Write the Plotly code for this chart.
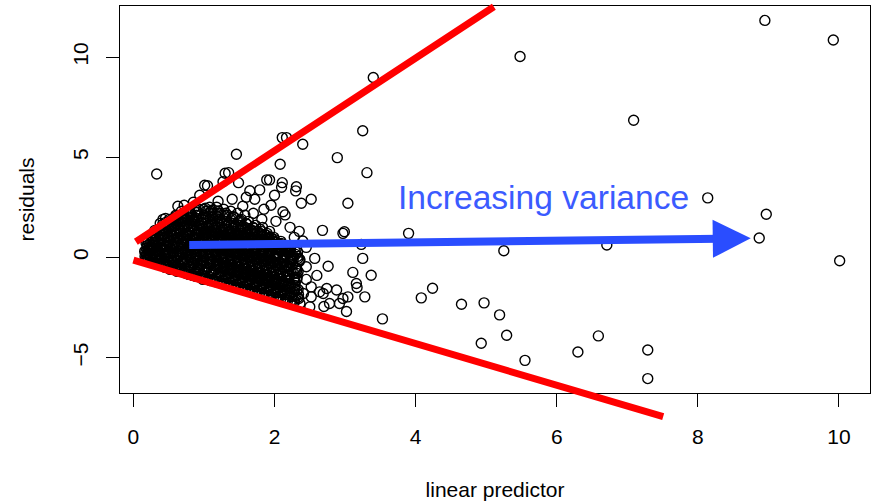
import plotly.graph_objects as go

# ---------------- data ----------------
# dense cluster of residuals at small linear-predictor values (first pass)
cluster_points = [
    (0.16,0.3),(0.18,0.0),(0.2,0.6),(0.17,-0.1),(0.22,0.2),(0.21,0.8),(0.19,0.45),(0.24,-0.2),(0.23,0.1),
    (0.26,0.5),(0.28,-0.25),(0.27,1.0),(0.3,0.2),(0.29,0.75),(0.25,0.05),(0.31,-0.1),(0.32,1.2),(0.28,0.35),(0.33,0.6),
    (0.35,-0.35),(0.36,0.9),(0.38,0.1),(0.37,1.4),(0.4,0.5),(0.39,-0.15),(0.41,1.1),(0.36,0.3),(0.42,0.7),(0.38,1.7),(0.43,-0.4),(0.4,0.0),
    (0.45,-0.5),(0.46,0.4),(0.47,1.2),(0.48,-0.1),(0.5,0.8),(0.49,1.6),(0.45,0.1),(0.51,1.9),(0.52,-0.3),(0.47,0.6),(0.5,1.0),(0.53,0.25),(0.46,1.4),(0.52,-0.6),
    (0.55,-0.6),(0.56,0.2),(0.57,0.9),(0.58,1.6),(0.6,-0.2),(0.59,0.5),(0.61,1.2),(0.55,1.9),(0.62,0.0),(0.57,-0.4),(0.6,2.1),(0.63,0.7),(0.58,1.4),(0.62,-0.7),(0.56,0.35),
    (0.65,-0.7),(0.66,0.1),(0.67,0.8),(0.68,1.5),(0.7,2.0),(0.69,-0.3),(0.71,0.5),(0.65,1.2),(0.72,-0.55),(0.67,1.8),(0.7,0.25),(0.73,1.0),(0.68,2.3),(0.72,-0.1),(0.66,0.6),
    (0.75,-0.8),(0.76,-0.2),(0.77,0.4),(0.78,1.1),(0.8,1.7),(0.79,2.2),(0.81,0.0),(0.75,0.8),(0.82,-0.6),(0.77,1.4),(0.8,0.6),(0.83,2.0),(0.78,-0.4),(0.76,1.9),(0.82,0.2),(0.84,-0.9),
    (0.85,-0.9),(0.86,-0.3),(0.87,0.3),(0.88,0.9),(0.9,1.5),(0.89,2.1),(0.91,-0.6),(0.85,0.6),(0.92,1.2),(0.87,1.8),(0.9,0.0),(0.93,2.4),(0.88,-0.1),(0.86,1.0),(0.92,0.45),(0.94,-0.95),
    (0.95,-1.0),(0.96,-0.4),(0.97,0.2),(0.98,0.8),(1.0,1.4),(0.99,2.0),(1.01,-0.7),(0.95,0.5),(1.02,1.1),(0.97,1.7),(1.0,-0.1),(1.03,2.3),(0.98,0.35),(0.96,1.25),(1.02,-1.05),(1.04,0.65),
    (1.05,-1.1),(1.06,-0.5),(1.07,0.1),(1.08,0.7),(1.1,1.3),(1.09,1.9),(1.11,-0.8),(1.05,0.4),(1.12,1.0),(1.07,1.6),(1.1,-0.2),(1.13,2.2),(1.08,2.5),(1.06,0.95),(1.12,-1.1),(1.14,0.3),
    (1.15,-1.2),(1.16,-0.6),(1.17,0.0),(1.18,0.6),(1.2,1.2),(1.19,1.8),(1.21,-0.9),(1.15,0.3),(1.22,0.9),(1.17,1.5),(1.2,-0.3),(1.23,2.2),(1.18,2.5),(1.16,1.05),(1.22,-1.25),(1.24,0.15),
    (1.25,-1.3),(1.26,-0.7),(1.27,-0.1),(1.28,0.5),(1.3,1.1),(1.29,1.7),(1.31,-1.0),(1.25,0.2),(1.32,0.8),(1.27,1.4),(1.3,-0.4),(1.33,2.1),(1.28,2.4),(1.26,0.95),(1.32,-1.35),(1.34,0.35),
    (1.35,-1.4),(1.36,-0.8),(1.37,-0.2),(1.38,0.4),(1.4,1.0),(1.39,1.6),(1.41,-1.1),(1.35,0.1),(1.42,0.7),(1.37,1.3),(1.4,-0.5),(1.43,2.0),(1.38,2.3),(1.36,0.85),(1.42,-1.45),(1.44,0.25),
    (1.45,-1.5),(1.46,-0.9),(1.47,-0.3),(1.48,0.3),(1.5,0.9),(1.49,1.5),(1.51,-1.2),(1.45,0.0),(1.52,0.6),(1.47,1.2),(1.5,-0.6),(1.53,1.9),(1.48,2.2),(1.46,0.75),(1.52,-1.55),
    (1.55,-1.6),(1.56,-1.0),(1.57,-0.4),(1.58,0.2),(1.6,0.8),(1.59,1.4),(1.61,-1.3),(1.55,-0.1),(1.62,0.5),(1.57,1.1),(1.6,-0.7),(1.63,1.8),(1.58,2.1),(1.62,-1.65),
    (1.65,-1.7),(1.66,-1.1),(1.67,-0.5),(1.68,0.1),(1.7,0.7),(1.69,1.3),(1.71,-1.4),(1.65,-0.2),(1.72,0.4),(1.67,1.0),(1.7,-0.8),(1.73,1.6),(1.72,-1.75),
    (1.75,-1.8),(1.76,-1.2),(1.77,-0.6),(1.78,0.0),(1.8,0.6),(1.79,1.2),(1.81,-1.5),(1.75,-0.3),(1.82,0.3),(1.77,0.9),(1.8,-0.9),(1.83,1.5),(1.82,-1.85),
    (1.85,-1.9),(1.86,-1.3),(1.87,-0.7),(1.88,-0.1),(1.9,0.5),(1.89,1.1),(1.91,-1.6),(1.85,-0.4),(1.92,0.2),(1.87,0.8),(1.9,-1.0),(1.93,1.3),(1.92,-1.95),
    (1.95,-2.0),(1.96,-1.4),(1.97,-0.8),(1.98,-0.2),(2.0,0.4),(1.99,1.0),(2.01,-1.7),(1.95,-0.5),(2.02,0.1),(1.97,0.7),(2.0,-1.1),(2.03,-2.1),
    (2.05,-2.1),(2.06,-1.5),(2.07,-0.9),(2.08,-0.3),(2.1,0.3),(2.09,0.8),(2.11,-1.8),(2.05,-0.6),(2.12,0.0),(2.07,0.55),(2.1,-1.2),
    (2.15,-2.2),(2.16,-1.6),(2.17,-1.0),(2.18,-0.4),(2.2,0.2),(2.19,0.5),(2.21,-1.9),(2.15,-0.7),(2.22,-0.1),(2.2,-1.3),
    (2.25,-2.3),(2.27,-1.7),(2.28,-1.1),(2.3,-0.5),(2.26,0.1),(2.32,-0.8),(2.33,-2.0),(2.29,-1.4),(2.35,-0.2),
]

# dense cluster (second pass)
cluster_points_b = [
    (0.19,0.15),(0.21,0.35),(0.23,0.65),(0.2,-0.05),(0.24,0.5),(0.18,0.7),
    (0.27,0.15),(0.29,0.45),(0.31,0.9),(0.33,-0.2),(0.3,1.1),(0.34,0.3),(0.32,0.0),(0.26,0.85),
    (0.37,0.2),(0.39,0.6),(0.41,-0.25),(0.43,1.3),(0.4,0.85),(0.44,0.05),(0.38,1.2),(0.42,1.5),(0.36,-0.1),(0.44,0.4),
    (0.47,-0.35),(0.49,0.25),(0.51,0.55),(0.53,1.3),(0.48,1.05),(0.5,-0.45),(0.54,0.0),(0.46,1.75),(0.52,1.55),(0.49,0.7),(0.54,-0.15),
    (0.57,0.05),(0.59,0.75),(0.61,-0.45),(0.63,1.45),(0.58,1.05),(0.6,1.75),(0.64,0.3),(0.56,-0.25),(0.62,0.55),(0.64,-0.55),(0.59,1.95),(0.57,1.25),
    (0.67,-0.45),(0.69,0.4),(0.71,1.1),(0.73,1.7),(0.68,-0.05),(0.7,0.9),(0.74,0.1),(0.66,1.4),(0.72,2.1),(0.74,-0.7),(0.69,0.65),(0.71,1.35),
    (0.77,-0.55),(0.79,0.15),(0.81,0.9),(0.83,1.55),(0.78,0.5),(0.8,1.25),(0.84,-0.25),(0.76,2.05),(0.82,0.75),(0.84,1.85),(0.79,-0.75),(0.81,0.35),(0.77,1.05),
    (0.87,-0.7),(0.89,0.15),(0.91,0.75),(0.93,1.35),(0.88,0.45),(0.9,1.95),(0.94,-0.4),(0.86,1.65),(0.92,-0.15),(0.94,1.05),(0.89,-0.85),(0.91,2.25),(0.87,1.15),
    (0.97,-0.85),(0.99,0.05),(1.01,0.6),(1.03,1.25),(0.98,-0.3),(1.0,1.85),(1.04,-0.55),(0.96,2.15),(1.02,0.9),(1.04,1.55),(0.99,0.3),(1.01,-0.95),(0.97,1.0),(1.03,0.15),
    (1.07,-0.95),(1.09,-0.05),(1.11,0.55),(1.13,1.15),(1.08,-0.35),(1.1,1.75),(1.14,-0.65),(1.06,2.05),(1.12,0.85),(1.14,1.45),(1.09,0.25),(1.11,2.35),(1.07,1.3),(1.13,-0.2),
    (1.17,-1.05),(1.19,-0.15),(1.21,0.45),(1.23,1.05),(1.18,-0.45),(1.2,1.65),(1.24,-0.75),(1.16,1.95),(1.22,0.75),(1.24,1.35),(1.19,0.15),(1.21,2.3),(1.17,1.2),(1.23,-0.3),
    (1.27,-1.15),(1.29,-0.25),(1.31,0.35),(1.33,0.95),(1.28,-0.55),(1.3,1.55),(1.34,-0.85),(1.26,1.85),(1.32,0.65),(1.34,1.25),(1.29,0.05),(1.31,2.2),(1.27,1.1),(1.33,-0.4),
    (1.37,-1.25),(1.39,-0.35),(1.41,0.25),(1.43,0.85),(1.38,-0.65),(1.4,1.45),(1.44,-0.95),(1.36,1.75),(1.42,0.55),(1.44,1.15),(1.39,-0.05),(1.41,2.05),(1.37,1.0),(1.43,-0.5),
    (1.47,-1.35),(1.49,-0.45),(1.51,0.15),(1.53,0.75),(1.48,-0.75),(1.5,1.35),(1.54,-1.05),(1.46,1.65),(1.52,0.45),(1.54,1.05),(1.49,-0.15),(1.51,1.85),(1.47,0.9),(1.53,-0.6),
    (1.57,-1.45),(1.59,-0.55),(1.61,0.05),(1.63,0.65),(1.58,-0.85),(1.6,1.25),(1.64,-1.15),(1.56,1.55),(1.62,0.35),(1.64,0.95),(1.59,-0.25),(1.61,1.65),(1.57,0.8),(1.63,-0.7),
    (1.67,-1.55),(1.69,-0.65),(1.71,-0.05),(1.73,0.55),(1.68,-0.95),(1.7,1.15),(1.74,-1.25),(1.66,1.4),(1.72,0.25),(1.74,0.85),(1.69,-0.35),(1.71,1.45),(1.67,0.7),(1.73,-0.8),
    (1.77,-1.65),(1.79,-0.75),(1.81,-0.15),(1.83,0.45),(1.78,-1.05),(1.8,1.05),(1.84,-1.35),(1.76,1.3),(1.82,0.15),(1.84,0.75),(1.79,-0.45),(1.81,1.3),(1.77,0.6),(1.83,-0.9),
    (1.87,-1.75),(1.89,-0.85),(1.91,-0.25),(1.93,0.35),(1.88,-1.15),(1.9,0.95),(1.94,-1.45),(1.86,1.15),(1.92,0.05),(1.94,0.65),(1.89,-0.55),(1.87,0.5),(1.93,-1.0),
    (1.97,-1.85),(1.99,-0.95),(2.01,-0.35),(2.03,0.25),(1.98,-1.25),(2.0,0.8),(2.04,-1.55),(1.96,0.95),(2.02,-0.05),(2.04,0.5),(1.99,-0.65),(1.97,0.35),
    (2.07,-1.95),(2.09,-1.05),(2.11,-0.45),(2.13,0.15),(2.08,-1.35),(2.1,0.6),(2.14,-1.65),(2.06,0.7),(2.12,-0.15),(2.14,0.4),(2.09,-0.75),
    (2.17,-2.05),(2.19,-1.15),(2.21,-0.55),(2.23,0.05),(2.18,-1.45),(2.2,0.35),(2.24,-1.75),(2.16,0.55),(2.22,-0.25),(2.19,-0.85),
    (2.27,-2.1),(2.29,-1.25),(2.31,-0.65),(2.33,-0.05),(2.28,-1.55),(2.3,0.15),(2.34,-1.85),(2.26,-0.35),(2.32,-1.0),
]

# dense cluster (third pass)
cluster_points_c = [
    (0.175,0.25),(0.225,0.55),(0.215,-0.1),(0.185,0.85),(0.235,0.35),(0.165,0.05),
    (0.275,0.6),(0.325,0.1),(0.285,1.15),(0.315,0.4),(0.265,-0.15),(0.335,0.8),(0.295,-0.3),(0.305,1.35),
    (0.375,0.45),(0.425,0.95),(0.385,-0.3),(0.415,1.65),(0.365,0.7),(0.435,0.2),(0.395,1.35),(0.405,-0.05),(0.445,1.15),
    (0.475,0.85),(0.525,0.45),(0.485,-0.5),(0.515,1.7),(0.465,0.15),(0.535,1.15),(0.495,1.4),(0.505,-0.2),(0.545,0.65),(0.455,1.95),
    (0.575,1.55),(0.625,0.2),(0.585,-0.6),(0.615,0.95),(0.565,0.6),(0.635,1.75),(0.595,0.15),(0.605,2.05),(0.645,-0.35),(0.555,1.1),(0.625,1.3),
    (0.675,0.3),(0.725,1.45),(0.685,-0.6),(0.715,0.75),(0.665,1.65),(0.735,0.35),(0.695,2.15),(0.705,-0.2),(0.745,1.2),(0.655,0.95),(0.725,1.9),(0.675,-0.25),
    (0.775,0.25),(0.825,1.35),(0.785,-0.85),(0.815,0.55),(0.765,1.6),(0.835,-0.05),(0.795,2.3),(0.805,-0.45),(0.845,0.95),(0.755,1.2),(0.825,1.75),(0.775,0.7),(0.815,-0.15),
    (0.875,0.1),(0.925,1.6),(0.885,-0.95),(0.915,0.6),(0.865,1.35),(0.935,-0.55),(0.895,2.35),(0.905,-0.2),(0.945,0.85),(0.855,1.9),(0.925,1.15),(0.875,0.7),(0.915,-0.75),(0.895,0.35),
    (0.975,0.45),(1.025,1.7),(0.985,-1.1),(1.015,0.25),(0.965,1.55),(1.035,-0.25),(0.995,2.4),(1.005,-0.6),(1.045,1.05),(0.955,0.75),(1.025,2.0),(0.975,-0.15),(1.015,1.3),(0.995,0.95),
    (1.075,0.4),(1.125,1.6),(1.085,-1.15),(1.115,0.15),(1.065,1.45),(1.135,-0.4),(1.095,2.3),(1.105,-0.7),(1.145,1.05),(1.055,0.75),(1.125,2.0),(1.075,-0.25),(1.115,1.25),(1.095,0.85),
    (1.175,0.3),(1.225,1.5),(1.185,-1.2),(1.215,0.05),(1.165,1.35),(1.235,-0.5),(1.195,2.2),(1.205,-0.8),(1.245,0.95),(1.155,0.65),(1.225,1.9),(1.175,-0.35),(1.215,1.15),(1.195,0.8),
    (1.275,0.2),(1.325,1.4),(1.285,-1.3),(1.315,-0.05),(1.265,1.25),(1.335,-0.6),(1.295,2.1),(1.305,-0.9),(1.345,0.85),(1.255,0.55),(1.325,1.8),(1.275,-0.45),(1.315,1.05),(1.295,0.7),
    (1.375,0.1),(1.425,1.3),(1.385,-1.4),(1.415,-0.15),(1.365,1.15),(1.435,-0.7),(1.395,1.95),(1.405,-1.0),(1.445,0.75),(1.355,0.45),(1.425,1.7),(1.375,-0.55),(1.415,0.95),(1.395,0.6),
    (1.475,0.0),(1.525,1.2),(1.485,-1.5),(1.515,-0.25),(1.465,1.05),(1.535,-0.8),(1.495,1.8),(1.505,-1.1),(1.545,0.65),(1.455,0.35),(1.525,1.6),(1.475,-0.65),(1.515,0.85),(1.495,0.5),
    (1.575,-0.1),(1.625,1.1),(1.585,-1.6),(1.615,-0.35),(1.565,0.95),(1.635,-0.9),(1.595,1.7),(1.605,-1.2),(1.645,0.55),(1.555,0.25),(1.625,1.45),(1.575,-0.75),(1.615,0.75),(1.595,0.4),
    (1.675,-0.2),(1.725,1.0),(1.685,-1.7),(1.715,-0.45),(1.665,0.85),(1.735,-1.0),(1.695,1.5),(1.705,-1.3),(1.745,0.45),(1.655,0.15),(1.725,1.3),(1.675,-0.85),(1.715,0.65),(1.695,0.3),
    (1.775,-0.3),(1.825,0.9),(1.785,-1.8),(1.815,-0.55),(1.765,0.75),(1.835,-1.1),(1.795,1.4),(1.805,-1.4),(1.845,0.35),(1.755,0.05),(1.825,1.15),(1.775,-0.95),(1.815,0.55),(1.795,0.2),
    (1.875,-0.4),(1.925,0.8),(1.885,-1.9),(1.915,-0.65),(1.865,0.65),(1.935,-1.2),(1.895,1.2),(1.905,-1.5),(1.945,0.25),(1.855,-0.05),(1.925,1.0),(1.875,-1.05),(1.915,0.45),(1.895,0.1),
    (1.975,-0.5),(2.025,0.65),(1.985,-2.0),(2.015,-0.75),(1.965,0.55),(2.035,-1.3),(1.995,0.9),(2.005,-1.6),(2.045,0.15),(1.955,-0.15),(2.025,-1.15),(1.995,0.0),
    (2.075,-0.6),(2.125,0.5),(2.085,-2.1),(2.115,-0.85),(2.065,0.35),(2.135,-1.4),(2.095,0.7),(2.105,-1.7),(2.145,0.05),(2.055,-0.25),(2.125,-1.25),
    (2.175,-0.7),(2.225,0.3),(2.185,-2.15),(2.215,-0.95),(2.165,0.15),(2.235,-1.5),(2.195,0.55),(2.205,-1.8),(2.245,-0.15),(2.155,-0.4),
    (2.275,-0.8),(2.325,0.05),(2.285,-2.2),(2.315,-1.1),(2.265,-0.1),(2.335,-1.6),(2.295,0.3),(2.305,-1.9),
]

# dense cluster (fourth pass, right half and top of the blob)
cluster_points_d = [
    (1.205,0.55),(1.245,-0.95),(1.225,1.75),(1.185,0.1),(1.255,1.0),(1.215,-0.55),(1.235,0.4),
    (1.305,0.45),(1.345,-1.05),(1.325,1.6),(1.285,0.0),(1.355,0.9),(1.315,-0.65),(1.335,0.3),
    (1.405,0.35),(1.445,-1.15),(1.425,1.5),(1.385,-0.1),(1.455,0.8),(1.415,-0.75),(1.435,0.2),(1.39,1.2),
    (1.505,0.25),(1.545,-1.25),(1.525,1.4),(1.485,-0.2),(1.555,0.7),(1.515,-0.85),(1.535,0.1),(1.49,1.1),
    (1.605,0.15),(1.645,-1.35),(1.625,1.3),(1.585,-0.3),(1.655,0.6),(1.615,-0.95),(1.635,0.0),(1.59,1.0),
    (1.705,0.05),(1.745,-1.45),(1.725,1.2),(1.685,-0.4),(1.755,0.5),(1.715,-1.05),(1.735,-0.1),(1.69,0.9),
    (1.805,-0.05),(1.845,-1.55),(1.825,1.05),(1.785,-0.5),(1.855,0.4),(1.815,-1.15),(1.835,-0.2),(1.79,0.8),
    (1.905,-0.15),(1.945,-1.65),(1.925,0.9),(1.885,-0.6),(1.955,0.3),(1.915,-1.25),(1.935,-0.3),(1.89,0.7),
    (2.005,-0.25),(2.045,-1.75),(2.025,0.75),(1.985,-0.7),(2.055,0.2),(2.015,-1.35),(2.035,-0.4),(1.99,0.55),
    (2.105,-0.35),(2.145,-1.85),(2.125,0.6),(2.085,-0.8),(2.155,0.1),(2.115,-1.45),(2.135,-0.5),(2.09,0.4),
    (2.205,-0.45),(2.245,-1.95),(2.225,0.45),(2.185,-0.9),(2.255,0.0),(2.215,-1.55),(2.235,-0.6),(2.19,0.25),
    (2.305,-0.55),(2.345,-2.05),(2.325,0.25),(2.285,-1.0),(2.355,-0.1),(2.315,-1.65),(2.335,-0.7),
    (0.72,1.55),(0.82,2.15),(0.92,1.85),(1.02,2.45),(1.12,1.65),(0.78,1.85),(0.88,2.25),(0.98,1.45),
    (1.08,2.2),(1.18,2.05),(0.62,1.85),(0.68,1.95),
]

# sparser points around the cluster and the far outliers
outer_points = [
    (0.33,4.16),(3.40,8.98),(3.25,6.32),(2.11,5.98),(2.17,5.98),(2.40,5.65),(1.46,5.15),(2.89,4.98),
    (2.08,4.65),(3.31,4.23),(1.35,4.23),(1.30,4.2),(1.49,3.73),(1.89,3.87),(2.11,3.73),(2.10,3.5),
    (2.30,3.32),(2.31,3.53),(2.52,2.9),(2.38,2.7),(3.04,2.7),(2.15,2.12),(2.12,2.28),(2.68,1.35),
    (2.99,1.28),(2.97,1.2),(3.90,1.2),(2.40,0.82),(1.05,3.58),(1.01,3.6),(1.27,3.78),(1.65,3.33),
    (1.79,3.37),(1.93,3.87),(0.94,3.1),(0.63,2.55),(0.42,1.9),(0.28,0.9),(1.72,2.9),(1.6,3.0),
    (1.4,2.9),(1.2,2.8),(0.85,2.75),(0.72,2.6),(1.55,2.55),(1.85,2.4),(1.95,2.6),(2.02,1.8),
    (2.22,1.5),(2.28,1.0),(2.35,1.3),(2.45,0.5),(1.82,1.9),(1.7,2.2),(2.0,3.1),(3.23,0.65),
    (3.25,-0.05),(2.57,-0.05),(2.76,-0.44),(3.11,-0.75),(3.37,-0.89),(3.16,-1.3),(3.17,-1.5),
    (3.28,-1.97),(3.04,-1.97),(2.88,-1.63),(2.74,-1.55),(2.64,-1.72),(2.52,-1.47),(2.52,-1.97),
    (2.78,-2.3),(2.5,-2.47),(2.36,-2.3),(2.92,-2.3),(2.36,-0.13),(2.45,-0.47),(3.02,-2.7),
    (3.53,-3.07),(2.97,-2.05),(2.69,-1.8),(2.41,-1.8),(2.6,-0.9),(2.45,-1.1),(2.7,-2.45),
    (8.95,11.83),(9.92,10.85),(5.48,10.03),(7.09,6.85),(8.14,2.97),(8.97,2.15),(8.87,0.97),
    (10.01,-0.17),(5.25,0.33),(6.71,0.62),(4.24,-1.54),(4.08,-2.02),(4.65,-2.34),(4.97,-2.27),
    (5.19,-2.87),(5.29,-3.89),(4.93,-4.29),(6.59,-3.92),(6.30,-4.72),(5.55,-5.14),(7.29,-4.62),
    (7.29,-6.05),
]

points = cluster_points + cluster_points_b + cluster_points_c + cluster_points_d + outer_points
pred_x = [p[0] for p in points]
resid_y = [p[1] for p in points]

# guide lines (start -> end, data coordinates)
upper_line_x = [0.035, 5.13]
upper_line_y = [0.78, 12.56]
lower_line_x = [0.0, 7.53]
lower_line_y = [-0.14, -7.97]
arrow_x = [0.77, 8.75]
arrow_y = [0.62, 0.95]
label_text = "Increasing variance"
label_pos = (5.81, 3.0)

x_ticks = [0, 2, 4, 6, 8, 10]
y_ticks = [-5, 0, 5, 10]
x_range = [-0.19, 10.44]
y_range = [-6.77, 12.55]

FONT = "Liberation Sans, Arial, Helvetica, sans-serif"

fig = go.Figure()
fig.add_trace(go.Scatter(
    x=pred_x, y=resid_y, mode="markers",
    marker=dict(symbol="circle-open", size=10, color="black", line=dict(width=1.4)),
    hoverinfo="skip", showlegend=False,
))

# red lines as arrowless annotation arrows (not clipped to plot area)
for lx, ly in [(upper_line_x, upper_line_y), (lower_line_x, lower_line_y)]:
    fig.add_annotation(
        x=lx[0], y=ly[0], ax=lx[1], ay=ly[1], xref="x", yref="y", axref="x", ayref="y",
        text="", showarrow=True, arrowhead=0, arrowwidth=7, arrowcolor="#FF0000", standoff=0,
    )

# blue arrow
fig.add_annotation(
    x=arrow_x[1], y=arrow_y[1], ax=arrow_x[0], ay=arrow_y[0],
    xref="x", yref="y", axref="x", ayref="y",
    text="", showarrow=True, arrowhead=2, arrowsize=0.95, arrowwidth=8, arrowcolor="#2A4DFF",
    standoff=0,
)
fig.add_annotation(
    x=label_pos[0], y=label_pos[1], xref="x", yref="y", text=label_text, showarrow=False,
    font=dict(family=FONT, size=33.6, color="#3B5BFF"), xanchor="center", yanchor="middle",
)

axis_common = dict(
    showgrid=False, zeroline=False, showline=True, linecolor="black", linewidth=1,
    mirror=True, ticks="outside", tickcolor="black", tickwidth=1, ticklen=13,
    tickfont=dict(family=FONT, size=21, color="black"),
)
fig.update_xaxes(
    range=x_range, tickvals=x_ticks, ticklabelstandoff=12,
    title=dict(text="linear predictor", font=dict(family=FONT, size=21, color="black"), standoff=38),
    **axis_common,
)
fig.update_yaxes(
    range=y_range, tickvals=y_ticks, tickangle=-90, ticklabelstandoff=10,
    title=dict(text="residuals", font=dict(family=FONT, size=21, color="black"), standoff=28),
    **axis_common,
)
fig.update_layout(
    width=875, height=501, autosize=False,
    margin=dict(l=120, r=5, t=6, b=108, autoexpand=False),
    paper_bgcolor="white", plot_bgcolor="white",
    font=dict(family=FONT, color="black"),
)
fig.write_html("out.html", config={"displayModeBar": False},
               post_script="document.body.style.margin='0px';")
